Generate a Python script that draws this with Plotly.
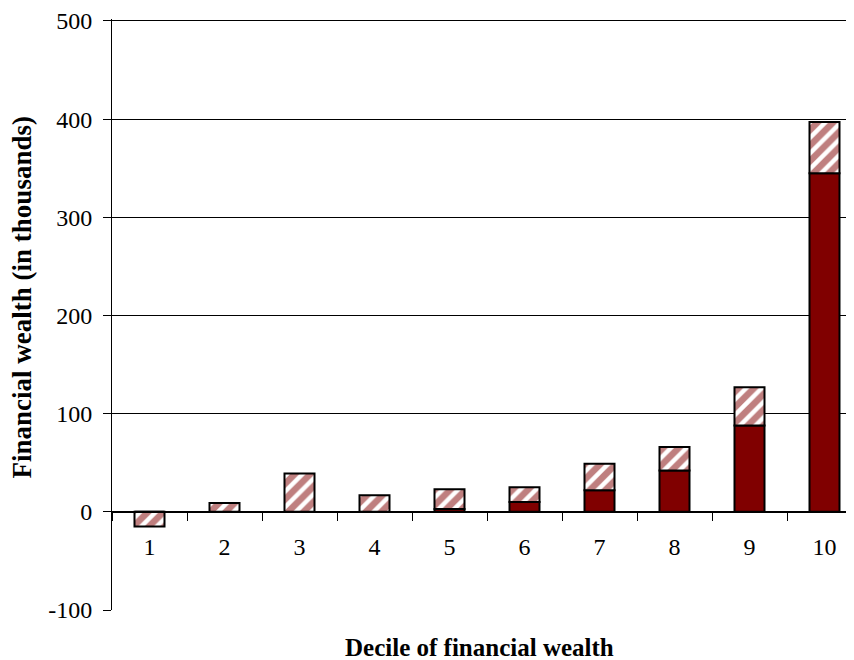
import plotly.graph_objects as go

deciles = ["1", "2", "3", "4", "5", "6", "7", "8", "9", "10"]
solid_part = [0, 0, 0, 0, 3, 10, 22, 42, 88, 345]
hatched_part = [-15, 9, 39, 17, 20, 15, 27, 24, 39, 52]
y_tick_values = [-100, 0, 100, 200, 300, 400, 500]
y_tick_labels = ["-100", "0", "100", "200", "300", "400", "500"]

DARK_RED = "#800000"
FONT = "Liberation Serif"

fig = go.Figure()
fig.add_bar(
    x=deciles, y=solid_part,
    marker=dict(color=DARK_RED, line=dict(color="black", width=2)),
    showlegend=False,
)
fig.add_bar(
    x=deciles, y=hatched_part,
    marker=dict(
        color="white",
        line=dict(color="black", width=2),
        pattern=dict(shape="/", fgcolor=DARK_RED, bgcolor="white", size=11, solidity=0.6),
    ),
    showlegend=False,
)

fig.update_layout(
    barmode="relative",
    bargap=0.6,
    width=846, height=652,
    margin=dict(l=104, r=1, t=11, b=50),
    plot_bgcolor="white", paper_bgcolor="white",
    font=dict(family=FONT, size=24, color="black"),
    xaxis=dict(
        anchor="free", position=100 / 602,
        range=[-0.5, 9.38],
        showline=True, linecolor="black", linewidth=1,
        ticks="outside", tickson="boundaries", ticklen=8, tickcolor="black",
        showgrid=False, zeroline=False,
        tickfont=dict(family=FONT, size=24),
        ticklabelstandoff=13,
        title=None,
    ),
    yaxis=dict(
        range=[-100, 502], tickvals=y_tick_values, ticktext=y_tick_labels,
        showline=True, linecolor="black", linewidth=1,
        ticks="outside", ticklen=8, tickcolor="black",
        showgrid=True, gridcolor="black", gridwidth=1,
        zeroline=False,
        tickfont=dict(family=FONT, size=24),
        ticklabelstandoff=6,
        ticklabeloverflow="allow",
        title=None,
    ),
    annotations=[
        dict(text="<b>Decile of financial wealth</b>", xref="paper", yref="paper",
             x=0.4956, y=-0.064, xanchor="center", yanchor="middle", showarrow=False,
             font=dict(family=FONT, size=25)),
        dict(text="<b>Financial wealth (in thousands)</b>", xref="paper", yref="paper",
             x=-0.121, y=0.5295, xanchor="center", yanchor="middle", showarrow=False,
             textangle=-90, font=dict(family=FONT, size=27)),
    ],
)

fig.write_html("out.html")
